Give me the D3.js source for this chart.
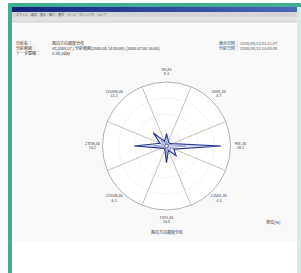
<!DOCTYPE html>
<html>
<head>
<meta charset="utf-8">
<script src="https://cdn.jsdelivr.net/npm/d3@7"></script>
<style>
  body { margin: 0; background: #fff; }
  svg { display: block; font-family: "Noto Sans CJK JP", "DejaVu Sans", sans-serif; }
</style>
</head>
<body>
<svg id="chart" width="301" height="273"></svg>
<script>
// wind direction frequency (%) for 16 directions, clockwise from N
const directions = ["N","NNE","NE","ENE","E","ESE","SE","SSE","S","SSW","SW","WSW","W","WNW","NW","NNW"];
const frequency = [7.7, 3.2, 2.4, 4.0, 34.0, 5.0, 8.4, 3.0, 10.4, 2.6, 2.2, 3.4, 20.0, 4.4, 11.6, 3.0];
const inner = [3.0, 1.5, 1.2, 2.0, 12.0, 2.5, 4.0, 1.6, 5.0, 1.4, 1.0, 1.8, 8.0, 2.0, 5.0, 1.5];

// 8 sector labels (name, value)
const sectorNames = ["0N,45", "45NE,45", "90E,45", "135SE,45", "180S,45", "225SW,45", "270W,45", "315NW,45"];
const sectorValues = ["8.3", "4.7", "36.2", "4.3", "16.8", "6.1", "16.2", "11.1"];
const gridValues = [10, 20, 30];
const maxValue = 40;

const headerLeft = [["分析名：", "風向方向頻度分布"], ["分析範囲：", "AT,2000,07 / 分析範囲[2000.08.14 00:00]-[2000.07.00 24:00]"], ["データ間隔：", "0.5h,1day"]];
const headerRight = [["表示日時：", "2000/08/23 01:11:07"], ["分析日時：", "2000/08/23 23:00:08"]];
const menuItems = ["ファイル", "編集", "表示", "挿入", "書式", "ツール", "ウィンドウ", "ヘルプ"];

const svg = d3.select("#chart");

// desktop frame
svg.append("rect").attr("x", 8).attr("y", 3).attr("width", 293).attr("height", 270).attr("fill", "#3fae92");
svg.append("rect").attr("x", 297).attr("y", 7).attr("width", 4).attr("height", 266).attr("fill", "#cfeee6");
svg.append("rect").attr("x", 12).attr("y", 7).attr("width", 285).attr("height", 266).attr("fill", "#ffffff");
svg.append("rect").attr("x", 12).attr("y", 22).attr("width", 285).attr("height", 220).attr("fill", "#f9f9f9");

// title bar
const grad = svg.append("defs").append("linearGradient").attr("id", "tb");
grad.append("stop").attr("offset", "0%").attr("stop-color", "#16237e");
grad.append("stop").attr("offset", "100%").attr("stop-color", "#4a68b8");
svg.append("rect").attr("x", 12).attr("y", 7).attr("width", 285).attr("height", 5).attr("fill", "url(#tb)");
svg.append("rect").attr("x", 12).attr("y", 12).attr("width", 285).attr("height", 5).attr("fill", "#d4d4d4");
svg.append("rect").attr("x", 12).attr("y", 17).attr("width", 285).attr("height", 5).attr("fill", "#e2e2e2");
svg.append("line").attr("x1", 12).attr("x2", 297).attr("y1", 22).attr("y2", 22).attr("stroke", "#b8b8b8").attr("stroke-width", 0.6);

// menu items laid out by their length
const menuFont = 3;
let mx = 16;
const menuPos = menuItems.map(m => { const p = mx; mx += m.length * menuFont + 3; return p; });
svg.selectAll(".menu").data(menuItems).enter().append("text")
  .attr("x", (d, i) => menuPos[i]).attr("y", 15.6).attr("font-size", menuFont).attr("fill", "#555").text(d => d);

// header
headerLeft.forEach((r, i) => {
  svg.append("text").attr("x", 16).attr("y", 45 + i * 5).attr("font-size", 4).attr("fill", "#333").text(r[0]);
  svg.append("text").attr("x", 52).attr("y", 45 + i * 5).attr("font-size", 4).attr("fill", "#333").text(r[1]);
});
headerRight.forEach((r, i) => {
  svg.append("text").attr("x", 219).attr("y", 45 + i * 5).attr("font-size", 4).attr("fill", "#333").text(r[0]);
  svg.append("text").attr("x", 240).attr("y", 45 + i * 5).attr("font-size", 4).attr("fill", "#555").text(r[1]);
});

// polar chart
const cx = 166.5, cy = 146, R = 64;
const r = d3.scaleLinear().domain([0, maxValue]).range([0, R]);
const ang = d3.scaleLinear().domain([0, directions.length]).range([0, 2 * Math.PI]);
const g = svg.append("g").attr("transform", `translate(${cx},${cy})`);

g.append("circle").attr("r", R).attr("fill", "#fff").attr("stroke", "#a8a8a8").attr("stroke-width", 0.9);
g.selectAll(".grid").data(gridValues).enter().append("circle")
  .attr("r", d => r(d)).attr("fill", "none").attr("stroke", "#ebebeb").attr("stroke-width", 0.6);

const spokes = d3.range(8).map(i => (i * 45 + 22.5) * Math.PI / 180);
g.selectAll(".spoke").data(spokes).enter().append("line")
  .attr("x1", 0).attr("y1", 0)
  .attr("x2", a => R * Math.sin(a)).attr("y2", a => -R * Math.cos(a))
  .attr("stroke", "#b5b09c").attr("stroke-width", 0.8);

const radial = d3.lineRadial().angle((d, i) => ang(i)).radius(d => r(d)).curve(d3.curveLinearClosed);
g.append("path").attr("d", radial(inner)).attr("fill", "none").attr("stroke", "#8a94d0").attr("stroke-width", 0.7);
g.selectAll(".ray").data(frequency).enter().append("line")
  .attr("x1", 0).attr("y1", 0)
  .attr("x2", (d, i) => r(d) * Math.sin(ang(i))).attr("y2", (d, i) => -r(d) * Math.cos(ang(i)))
  .attr("stroke", "#7d87c8").attr("stroke-width", 0.5);
g.append("path").attr("d", radial(frequency)).attr("fill", "none").attr("stroke", "#2b3a96").attr("stroke-width", 1.2);
g.append("circle").attr("r", 1.8).attr("fill", "#fff").attr("stroke", "#2b3a96").attr("stroke-width", 0.6);

// sector labels
const lab = g.selectAll(".lab").data(sectorNames).enter().append("g")
  .attr("transform", (d, i) => {
    const a = i * Math.PI / 4;
    const rr = R + 10;
    return `translate(${rr * Math.sin(a)},${-rr * Math.cos(a)})`;
  });
lab.append("text").attr("text-anchor", "middle").attr("y", -1).attr("font-size", 3.8).attr("fill", "#444").text(d => d);
lab.append("text").attr("text-anchor", "middle").attr("y", 3.4).attr("font-size", 3.8).attr("fill", "#444")
  .text((d, i) => sectorValues[i]);

// footer
svg.append("text").attr("x", 167).attr("y", 234).attr("text-anchor", "middle").attr("font-size", 4).attr("fill", "#333").text("風向方向頻度分布");
svg.append("text").attr("x", 266).attr("y", 224).attr("font-size", 4).attr("fill", "#333").text("単位[%]");
</script>
</body>
</html>
